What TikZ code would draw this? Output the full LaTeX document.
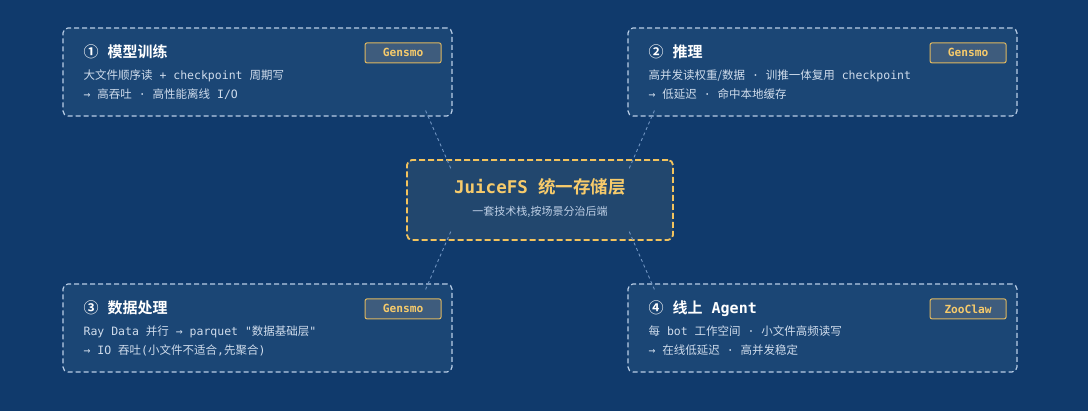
\documentclass[tikz,border=0pt]{standalone}
\usepackage{fontspec}
\setmainfont{DejaVu Sans Mono}[Ligatures=TeXOff]
\newfontfamily\cjk{Noto Sans CJK SC}[BoldFont={Noto Sans CJK SC Bold}]
\usepackage{tikz}
\usetikzlibrary{arrows.meta,positioning,calc}
\usepackage{xcolor}
\definecolor{NightBlue}{HTML}{103A6C}
\definecolor{CardFill}{HTML}{1B4675}
\definecolor{CardEdge}{HTML}{B9CDE6}
\definecolor{CoreFill}{HTML}{22476E}
\definecolor{CoreGold}{HTML}{F2C35E}
\definecolor{TagFill}{HTML}{3E5C7D}
\definecolor{TagGold}{HTML}{F7CB6B}
\definecolor{BodyText}{HTML}{CFDCEC}
\definecolor{SubText}{HTML}{BFD0E6}
\definecolor{LinkBlue}{HTML}{6F93C0}
\newcommand{\zh}[1]{{\cjk #1}}

\begin{document}
\begin{tikzpicture}[x=1pt,y=1pt,
  card/.style={draw=CardEdge,fill=CardFill,line width=1.2pt,dash pattern=on 5pt off 3pt,rounded corners=5pt,minimum width=389pt,minimum height=88pt,inner sep=0pt},
  core/.style={draw=CoreGold,fill=CoreFill,line width=1.8pt,dash pattern=on 6pt off 3pt,rounded corners=5pt,minimum width=266pt,minimum height=80pt,inner sep=0pt},
  tag/.style={draw=TagGold!90!black,fill=TagFill,line width=1pt,rounded corners=2pt,minimum width=76pt,minimum height=20pt,inner sep=0pt,text=TagGold,font=\fontsize{11.2}{13}\selectfont\bfseries},
  cardtitle/.style={anchor=base west,inner sep=0pt,text=white,font=\fontsize{15}{17}\selectfont\bfseries},
  cardline/.style={anchor=base west,inner sep=0pt,text=BodyText,font=\fontsize{11.5}{14}\selectfont},
  link/.style={draw=LinkBlue,line width=0.9pt,dash pattern=on 3pt off 3pt}]
\fill[NightBlue] (0,0) rectangle (1088,411);
\useasboundingbox (0,0) rectangle (1088,411);
% four scenario cards
\node[card] (train) at (257.5,339) {};
\node[card] (infer) at (822.5,339) {};
\node[card] (data) at (257.5,83) {};
\node[card] (agent) at (822.5,83) {};
% storage layer in the middle
\node[core] (core) at (540,211) {};
\node[anchor=base,inner sep=0pt,text=TagGold,font=\fontsize{17.5}{20}\selectfont\bfseries] (coreT) at ($(core.north)+(0,-34)$) {JuiceFS \zh{统一存储层}};
\node[anchor=base,inner sep=0pt,text=SubText,font=\fontsize{11}{13}\selectfont] (coreS) at ($(core.north)+(0,-56)$) {\zh{一套技术栈,按场景分治后端}};
% card texts
\node[cardtitle] (trainT) at ($(train.north west)+(21,-30)$) {\zh{①} \zh{模型训练}};
\node[cardline] (trainA) at ($(train.north west)+(21,-52)$) {\zh{大文件顺序读} + checkpoint \zh{周期写}};
\node[cardline] (trainB) at ($(train.north west)+(21,-71)$) {→ \zh{高吞吐} · \zh{高性能离线} I/O};
\node[tag,anchor=north east] (trainTag) at ($(train.north east)+(-11,-15)$) {Gensmo};
\node[cardtitle] (inferT) at ($(infer.north west)+(21,-30)$) {\zh{②} \zh{推理}};
\node[cardline] (inferA) at ($(infer.north west)+(21,-52)$) {\zh{高并发读权重/数据} · \zh{训推一体复用} checkpoint};
\node[cardline] (inferB) at ($(infer.north west)+(21,-71)$) {→ \zh{低延迟} · \zh{命中本地缓存}};
\node[tag,anchor=north east] (inferTag) at ($(infer.north east)+(-11,-15)$) {Gensmo};
\node[cardtitle] (dataT) at ($(data.north west)+(21,-30)$) {\zh{③} \zh{数据处理}};
\node[cardline] (dataA) at ($(data.north west)+(21,-52)$) {Ray Data \zh{并行} → parquet "\zh{数据基础层}"};
\node[cardline] (dataB) at ($(data.north west)+(21,-71)$) {→ IO \zh{吞吐}(\zh{小文件不适合},\zh{先聚合})};
\node[tag,anchor=north east] (dataTag) at ($(data.north east)+(-11,-15)$) {Gensmo};
\node[cardtitle] (agentT) at ($(agent.north west)+(21,-30)$) {\zh{④} \zh{线上} Agent};
\node[cardline] (agentA) at ($(agent.north west)+(21,-52)$) {\zh{每} bot \zh{工作空间} · \zh{小文件高频读写}};
\node[cardline] (agentB) at ($(agent.north west)+(21,-71)$) {→ \zh{在线低延迟} · \zh{高并发稳定}};
\node[tag,anchor=north east] (agentTag) at ($(agent.north east)+(-11,-15)$) {ZooClaw};
% dashed links
\coordinate (trainEnd) at ($(train.south east)+(-27,6)$);
\coordinate (inferEnd) at ($(infer.south west)+(27,6)$);
\coordinate (dataEnd) at ($(data.north east)+(-27,-6)$);
\coordinate (agentEnd) at ($(agent.north west)+(27,-6)$);
\coordinate (coreNW) at ($(core.north west)+(45,-10)$);
\coordinate (coreNE) at ($(core.north east)+(-45,-10)$);
\coordinate (coreSW) at ($(core.south west)+(45,10)$);
\coordinate (coreSE) at ($(core.south east)+(-45,10)$);
\draw[link] (trainEnd)--(coreNW);\draw[link] (inferEnd)--(coreNE);\draw[link] (dataEnd)--(coreSW);\draw[link] (agentEnd)--(coreSE);
\end{tikzpicture}
\end{document}
